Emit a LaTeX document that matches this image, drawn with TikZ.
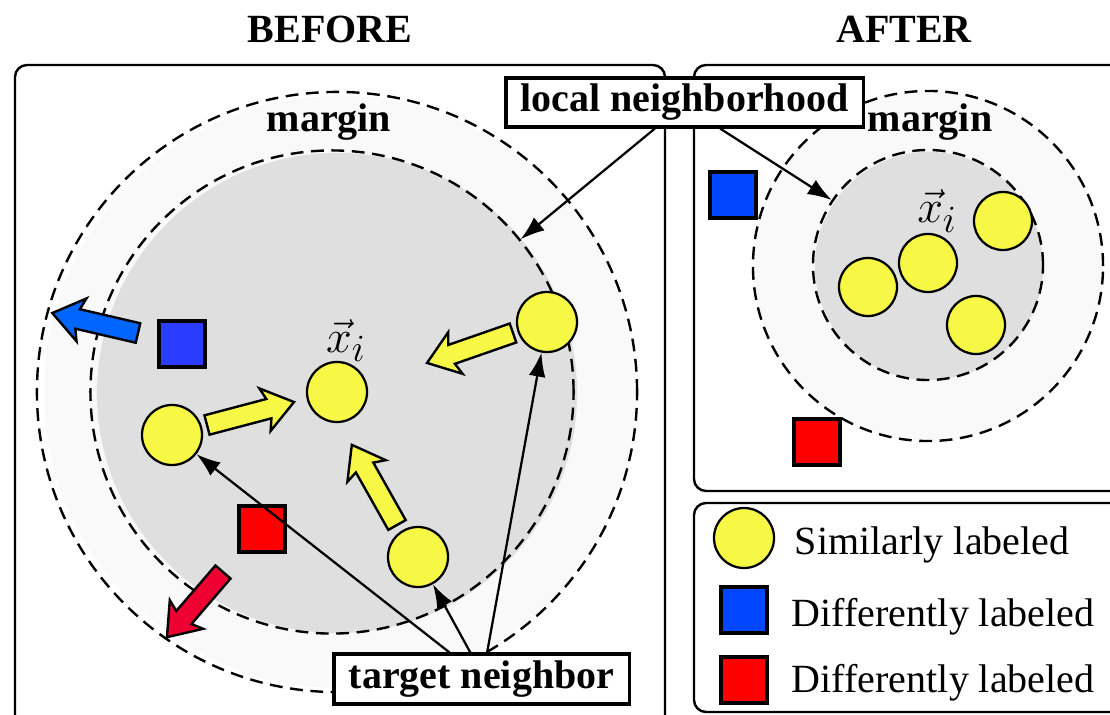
\documentclass[tikz,border=0pt]{standalone}
\usepackage{graphicx}
\usepackage{fontspec}
\setmainfont{Liberation Serif}
\usetikzlibrary{arrows.meta}
\definecolor{dotyellow}{HTML}{F7F746}
\definecolor{ringgray}{HTML}{F9F9F9}
\definecolor{coregray}{HTML}{DFDFDF}
\definecolor{boxblue}{HTML}{2A3CFF}
\definecolor{keyblue}{HTML}{0047FF}
\definecolor{boxred}{HTML}{FF0000}
\definecolor{pushblue}{HTML}{0066FF}
\definecolor{pushred}{HTML}{EE0033}
\newcommand{\bigfont}{\fontsize{28.45}{34}\selectfont}
\newcommand{\xivec}{\scalebox{1.32}{$\vec{x}_i$}}

\begin{document}
\begin{tikzpicture}[x=0.025cm,y=-0.025cm]
  \tikzset{panel/.style={draw,line width=1.7pt,rounded corners=0.3cm}}
  \tikzset{zone/.style={draw,circle,dash pattern=on 0.32cm off 0.19cm,line width=1.7pt,inner sep=0pt}}
  \tikzset{sample/.style={draw,circle,fill=dotyellow,line width=1.6pt,inner sep=0pt,minimum size=1.5cm}}
  \tikzset{impostor/.style={draw,rectangle,line width=2.3pt,inner sep=0pt,minimum size=1.15cm}}
  \tikzset{callout/.style={draw,fill=white,line width=2.2pt,font=\bfseries\bigfont,inner sep=0pt}}
  \tikzset{pointer/.style={-{Latex[length=0.6cm,width=0.42cm]},line width=1.6pt}}
  \tikzset{heading/.style={font=\bfseries\bigfont,anchor=base}}
  \tikzset{keytext/.style={font=\bigfont,anchor=base west}}
  \tikzset{vecfont/.style={font=\fontsize{24.88}{30}\selectfont,anchor=base,inner sep=0pt}}
  \tikzset{pics/fatarrow/.style 2 args={code={
    \draw[fill=#1,line width=1.7pt] (0,-10) -- ({#2-26},-10) -- ({#2-30},-22) -- (#2,0)
      -- ({#2-30},22) -- ({#2-26},10) -- (0,10) -- cycle;}}}
  \useasboundingbox (0,0) rectangle (1110,715);

  % panels
  \draw[panel] (15,65) rectangle (665,740);
  \draw[panel] (694,65) rectangle (1130,491);
  \draw[panel] (694,503) rectangle (1130,712);
  \node[heading] (before) at (330,43) {BEFORE};
  \node[heading] (after) at (904,43) {AFTER};

  % before: margin and neighbourhood
  \fill[ringgray] (340,392) circle[radius=7.4cm];
  \fill[coregray] (337,393) circle[radius=6cm];
  \node[zone,minimum size=15cm] (outerL) at (337,392) {};
  \node[zone,minimum size=12.075cm] (innerL) at (332,392) {};
  \node[heading] (marginL) at (329,132) {margin};

  % pushes
  \pic[rotate=14.8] at (207,425) {fatarrow={dotyellow}{90}};
  \pic[rotate=199.2] at (513,333) {fatarrow={dotyellow}{91}};
  \pic[rotate=119.4] at (397,525) {fatarrow={dotyellow}{92}};
  \pic[rotate=166.9] at (138,333) {fatarrow={pushblue}{88}};
  \pic[rotate=229.3] at (223,572) {fatarrow={pushred}{86}};

  \node[impostor,fill=boxblue] (blueL) at (182,344) {};
  \node[impostor,fill=boxred] (redL) at (262,529) {};
  \node[sample] (xi) at (337,392) {};
  \node[vecfont] (xilabL) at (346,352) {\xivec};
  \node[sample] (leftdot) at (172,435) {};
  \node[sample] (rightdot) at (547,322) {};
  \node[sample] (lowdot) at (418,557) {};

  % after
  \fill[ringgray] (928,266) circle[radius=4.375cm];
  \fill[coregray] (929,266) circle[radius=2.85cm];
  \node[zone,minimum size=8.75cm] (outerR) at (928,266) {};
  \node[zone,minimum size=5.75cm] (innerR) at (928,265) {};
  \node[heading] (marginR) at (930,132) {margin};
  \node[impostor,fill=keyblue] (blueR) at (733,195) {};
  \node[impostor,fill=boxred] (redR) at (817,442) {};
  \node[sample,minimum size=1.45cm] (dotA) at (868,287) {};
  \node[sample,minimum size=1.45cm] (dotB) at (928,263) {};
  \node[sample,minimum size=1.45cm] (dotC) at (1003,221) {};
  \node[sample,minimum size=1.45cm] (dotD) at (976,325) {};
  \node[vecfont] (xilabR) at (937,223) {\xivec};

  % callouts
  \node[callout,minimum width=8.925cm,minimum height=1.225cm] (lnb) at (684.5,102.5) {local neighborhood};
  \node[callout,minimum width=7.375cm,minimum height=1.25cm] (tgt) at (481.5,679) {target neighbor};
  \draw[pointer] ([xshift=-0.74cm]lnb.south) -- (innerL.39.6);
  \draw[pointer] ([xshift=0.89cm]lnb.south) -- (innerR.146.4);
  \draw[pointer] ([xshift=-0.8cm]tgt.north) -- (leftdot);
  \draw[pointer] ([xshift=-0.28cm]tgt.north) -- (lowdot);
  \draw[pointer] ([xshift=0.14cm]tgt.north) -- (rightdot);

  % legend
  \node[sample] (keydot) at (744,538) {};
  \node[impostor,fill=keyblue] (keyblue) at (744,610) {};
  \node[impostor,fill=boxred] (keyred) at (744,680) {};
  \node[keytext] (keysim) at (790,554) {Similarly labeled};
  \node[keytext] (keydif1) at (787,626) {Differently labeled};
  \node[keytext] (keydif2) at (787,692) {Differently labeled};
\end{tikzpicture}
\end{document}
